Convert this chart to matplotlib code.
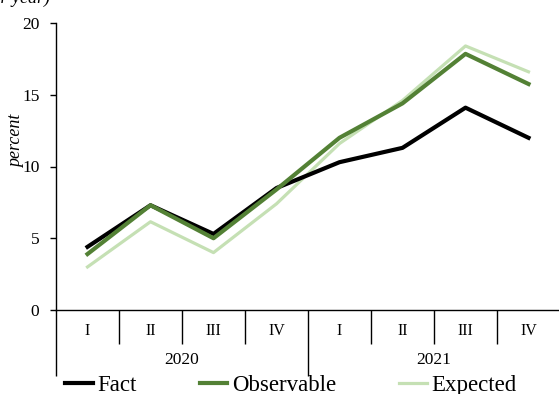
import matplotlib.pyplot as plt
from matplotlib.lines import Line2D
import matplotlib.transforms as mtransforms

plt.rcParams['font.family'] = ['Liberation Serif', 'DejaVu Serif']

quarters = ["I", "II", "III", "IV", "I", "II", "III", "IV"]
years = ["2020", "2021"]
fact = [4.4, 7.3, 5.3, 8.5, 10.3, 11.3, 14.1, 12.0]
observable = [3.9, 7.3, 5.0, 8.4, 12.0, 14.4, 17.85, 15.75]
expected = [3.0, 6.15, 4.0, 7.4, 11.6, 14.6, 18.4, 16.6]

fig = plt.figure(figsize=(5.59, 3.94), dpi=100)
ax = fig.add_axes([56 / 559, 84 / 394, 504 / 559, 287 / 394])

x = list(range(len(quarters)))
ax.plot(x, expected, color="#c5e0b4", linewidth=2.3, label="Expected", zorder=2)
ax.plot(x, fact, color="black", linewidth=3, label="Fact", zorder=3)
ax.plot(x, observable, color="#538135", linewidth=3, label="Observable", zorder=4)

ax.set_xlim(-0.5, 7.5)
ax.set_ylim(0, 20)
ax.set_yticks([0, 5, 10, 15, 20])
ax.tick_params(axis="y", direction="out", length=4, width=1, labelsize=12.5, pad=8)
ax.spines["top"].set_visible(False)
ax.spines["right"].set_visible(False)
ax.spines["left"].set_linewidth(1)
ax.spines["bottom"].set_linewidth(1)

# category axis: quarter dividers and year dividers drawn as ticks
ax.set_xticks([-0.5, 3.5, 7.5])
ax.set_xticks([0.5, 1.5, 2.5, 4.5, 5.5, 6.5], minor=True)
ax.tick_params(axis="x", which="major", length=47.5, width=1, labelbottom=False)
ax.tick_params(axis="x", which="minor", length=24.5, width=1, labelbottom=False)

trans = mtransforms.blended_transform_factory(ax.transData, ax.transAxes)
for i, q in enumerate(quarters):
    ax.text(i, -21 / 287, q, transform=trans, ha="center", va="center", fontsize=11.5)
for j, yr in enumerate(years):
    ax.text(1.5 + 4 * j, -50 / 287, yr, transform=trans, ha="center", va="center", fontsize=12.5)

fig.text(17 / 559, 1 - 141 / 394, "percent", rotation=90, ha="center", va="center",
         fontstyle="italic", fontsize=13)

fig.text(50 / 559, 1.005, "(% per year)", ha="right", va="center",
         fontstyle="italic", fontsize=13)

handles = [Line2D([], [], color="black", linewidth=3),
           Line2D([], [], color="#538135", linewidth=3),
           Line2D([], [], color="#c5e0b4", linewidth=2.3)]
fig.legend(handles, ["Fact", "Observable", "Expected"], ncol=3, frameon=False,
           loc="center", bbox_to_anchor=(291 / 559, 1 - 385 / 394),
           fontsize=16.5, handlelength=1.2, handletextpad=0.2, columnspacing=2.75,
           borderaxespad=0, borderpad=0)

fig.savefig("out.png", dpi=100)
